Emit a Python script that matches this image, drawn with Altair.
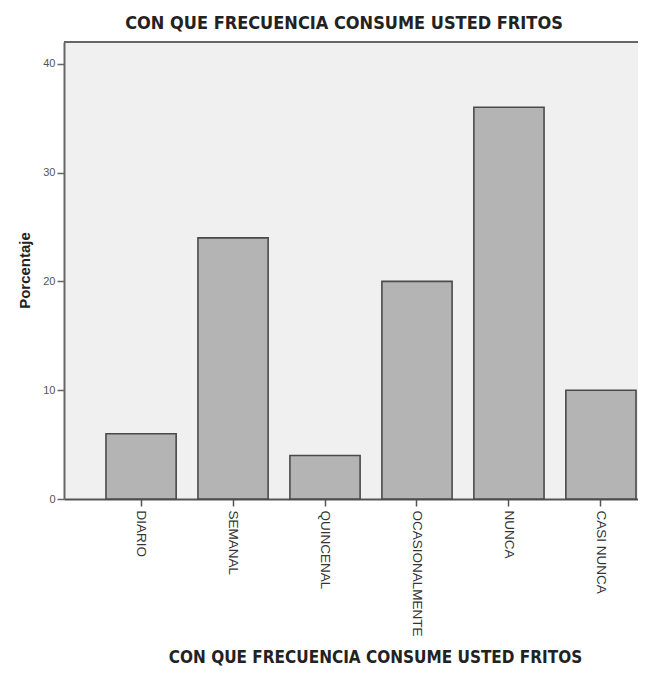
import altair as alt
import pandas as pd

categories = ["DIARIO", "SEMANAL", "QUINCENAL", "OCASIONALMENTE", "NUNCA", "CASI NUNCA"]
percentages = [6, 24, 4, 20, 36, 10]
y_ticks = [0, 10, 20, 30, 40]
title_text = "CON QUE FRECUENCIA CONSUME USTED FRITOS"

df = pd.DataFrame({"cat": categories, "pct": percentages})
W, H = 574, 457
NARROW = "Liberation Sans Narrow, Arial Narrow, DejaVu Sans Condensed, sans-serif"

bars = alt.Chart(df).mark_bar(fill="#b4b4b4", stroke="#4a4a4a", strokeWidth=1.6).encode(
    x=alt.X(
        "cat:N",
        sort=categories,
        scale=alt.Scale(paddingInner=0.237, paddingOuter=0.239, align=0.955),
        axis=alt.Axis(
            title=title_text,
            labelAngle=90,
            labelFont="Liberation Sans",
            labelFontSize=13.5,
            labelColor="#333",
            labelPadding=4,
            tickSize=7,
            tickColor="#555",
            tickWidth=1.5,
            domainColor="#555",
            domainWidth=2,
            titleFont=NARROW,
            titleFontSize=17,
            titleFontWeight="bold",
            titleColor="#222",
            titleX=311,
            titleY=158,
            titleAlign="center",
            titleBaseline="middle",
        ),
    ),
    y=alt.Y(
        "pct:Q",
        scale=alt.Scale(domain=[0, 42], nice=False),
        axis=alt.Axis(
            values=y_ticks,
            title="Porcentaje",
            grid=False,
            labelFont="Liberation Sans",
            labelFontSize=11,
            labelColor="#555",
            labelPadding=2,
            tickSize=7,
            tickColor="#666",
            tickWidth=1.5,
            domainColor="#666",
            domainWidth=2,
            titleFont="Liberation Sans",
            titleFontSize=15,
            titleFontWeight="bold",
            titleColor="#222",
            titleAngle=270,
            titleX=-40,
            titleY=228,
            titleAlign="center",
            titleBaseline="middle",
        ),
    ),
)

frame_top = alt.Chart(pd.DataFrame({"a": [0]})).mark_rule(color="#666", strokeWidth=2).encode(
    x=alt.value(0), x2=alt.value(W), y=alt.value(0)
)

chart = (
    alt.layer(bars, frame_top)
    .properties(
        width=W,
        height=H,
        title=alt.TitleParams(
            title_text,
            font=NARROW,
            fontSize=18,
            fontWeight="bold",
            color="#222",
            anchor="middle",
            offset=8,
            dx=-7,
        ),
        autosize=alt.AutoSizeParams(type="none"),
        padding={"left": 56, "top": 34, "right": 0, "bottom": 168},
        background="white",
    )
    .configure_view(fill="#f0f0f0", stroke=None)
)

chart.save("out.html", embed_options={"renderer": "svg", "actions": False})
